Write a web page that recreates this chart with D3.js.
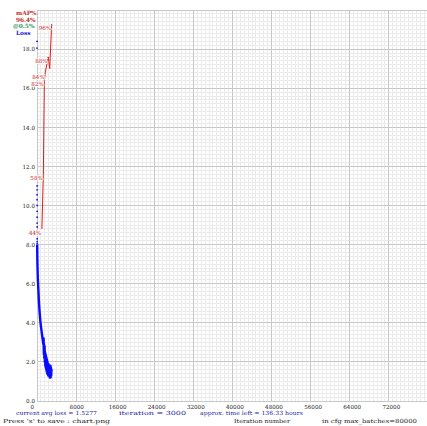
<!DOCTYPE html>
<html><head><meta charset="utf-8">
<script src="https://cdn.jsdelivr.net/npm/d3@7"></script>
<style>body{margin:0;background:#fff}svg{display:block}</style>
</head><body>
<script>
// ---- data ----
const maxBatches = 80000;
const maxLoss = 20;
const yTickValues = [0, 2, 4, 6, 8, 10, 12, 14, 16, 18];
const yTickLabels = ["0.0", "2.0", "4.0", "6.0", "8.0", "10.0", "12.0", "14.0", "16.0", "18.0"];
const xTickValues = [0, 8000, 16000, 24000, 32000, 40000, 48000, 56000, 64000, 72000];
const xTickLabels = ["0", "8000", "16000", "24000", "32000", "40000", "48000", "56000", "64000", "72000"];

// early loss samples drawn as dots along the axis
const dotIters = [2, 4, 10, 12, 14, 16, 18, 20, 22, 24, 26, 28, 30, 32, 34, 36];
const dotLoss  = [18.4, 18.05, 11.0, 10.8, 10.55, 10.3, 10.0, 9.7, 9.4, 9.1, 8.9, 8.7, 8.5, 8.3, 8.15, 8.05];

// avg loss curve
const lossIters = [40, 60, 90, 130, 180, 240, 300, 370, 440, 520, 600, 680, 760, 840, 920, 1000, 1080, 1160, 1240,
  1300, 1350, 1400, 1450, 1500, 1550, 1600, 1650, 1700, 1750, 1800, 1850, 1900, 1950, 2000, 2050, 2100, 2150,
  2200, 2250, 2300, 2350, 2400, 2450, 2500, 2550, 2600, 2650, 2700, 2750, 2800, 2850, 2900, 2950, 3000];
const lossValues = [8.0, 7.4, 7.0, 6.6, 6.2, 5.9, 5.6, 5.2, 4.9, 4.6, 4.35, 4.1, 3.9, 3.75, 3.6, 3.45, 3.3, 3.15, 3.0,
  2.9, 3.2, 2.4, 2.9, 2.2, 2.8, 2.0, 2.5, 1.8, 2.4, 1.7, 2.3, 1.6, 2.2, 1.5, 2.1, 1.4, 2.0,
  1.5, 1.9, 1.3, 1.9, 1.4, 1.8, 1.3, 1.8, 1.2, 1.7, 1.3, 1.8, 1.2, 1.7, 1.3, 1.6, 1.5];

// mAP evaluations (label shown only for new maxima)
const mapIters  = [1000, 1300, 1500, 1700, 2300, 2600, 3000];
const mapValues = [44, 58, 82, 84, 88, 85, 96.4];
const mapLabels = ["44%", "58%", "82%", "84%", "88%", "", "96%"];

const legendTexts = ["mAP%", "96.4%", "@0.5%", "Loss"];
const infoLine1 = ["current avg loss = 1.5277", "iteration = 3000", "approx. time left = 136.33 hours"];
const infoLine2 = ["Press 's' to save : chart.png", "Iteration number", "in cfg max_batches=80000"];

// ---- drawing ----
const W = 427, H = 426;
const svg = d3.select("body").append("svg").attr("width", W).attr("height", H);
const plotLeft = 37, plotTop = 10, plotSize = 391;
const x = d3.scaleLinear().domain([0, maxBatches]).range([plotLeft, plotLeft + plotSize]);
const y = d3.scaleLinear().domain([0, maxLoss]).range([plotTop + plotSize, plotTop]);
const yMap = d3.scaleLinear().domain([0, 100]).range([plotTop + plotSize, plotTop]);
const FONT = "DejaVu Serif";

// minor grid
const grid = svg.append("g").attr("shape-rendering", "crispEdges");
grid.append("g").selectAll("line").data(d3.range(0, maxBatches + 1, maxBatches / 100)).join("line")
  .attr("x1", d => x(d)).attr("x2", d => x(d)).attr("y1", y(0)).attr("y2", y(maxLoss))
  .attr("stroke", "#ebebeb").attr("stroke-width", 1);
grid.append("g").selectAll("line").data(d3.range(0, maxLoss + 0.001, maxLoss / 100)).join("line")
  .attr("y1", d => y(d)).attr("y2", d => y(d)).attr("x1", x(0)).attr("x2", x(maxBatches))
  .attr("stroke", "#ebebeb").attr("stroke-width", 1);
// major grid
grid.append("g").selectAll("line").data(d3.range(0, maxBatches + 1, maxBatches / 10)).join("line")
  .attr("x1", d => x(d)).attr("x2", d => x(d)).attr("y1", y(0)).attr("y2", y(maxLoss))
  .attr("stroke", "#c8c8c8").attr("stroke-width", 1);
grid.append("g").selectAll("line").data(d3.range(0, maxLoss + 0.001, maxLoss / 10)).join("line")
  .attr("y1", d => y(d)).attr("y2", d => y(d)).attr("x1", x(0)).attr("x2", x(maxBatches))
  .attr("stroke", "#c8c8c8").attr("stroke-width", 1);

// y axis labels
const yAxis = svg.append("g").attr("transform", `translate(${plotLeft - 2},0)`)
  .call(d3.axisLeft(y).tickValues(yTickValues).tickSize(0).tickPadding(0)
    .tickFormat((d, i) => yTickLabels[i]));
yAxis.select(".domain").remove();
yAxis.selectAll("text").attr("font-family", FONT).attr("font-size", 5.6).attr("fill", "#222");

// x axis labels
const xAxis = svg.append("g").attr("transform", `translate(0,${plotTop + plotSize + 4})`)
  .call(d3.axisBottom(x).tickValues(xTickValues).tickSize(0).tickPadding(0)
    .tickFormat((d, i) => xTickLabels[i]));
xAxis.select(".domain").remove();
xAxis.selectAll("text").attr("font-family", FONT).attr("font-size", 5.6).attr("fill", "#222")
  .attr("text-anchor", "start").attr("x", -7);

// loss dots
svg.append("g").selectAll("circle").data(dotIters).join("circle")
  .attr("cx", d => x(d)).attr("cy", (d, i) => y(dotLoss[i])).attr("r", 0.9).attr("fill", "#1010ff");

// loss curve
const lossPts = lossIters.map((it, i) => [it, lossValues[i]]);
svg.append("path").datum(lossPts)
  .attr("d", d3.line().x(d => x(d[0])).y(d => y(d[1])))
  .attr("fill", "none").attr("stroke", "#0a0aff").attr("stroke-width", 2.4)
  .attr("stroke-linejoin", "round");

// mAP line
const mapPts = mapIters.map((it, i) => [it, mapValues[i], mapLabels[i]]);
svg.append("path").datum(mapPts)
  .attr("d", d3.line().x(d => x(d[0])).y(d => yMap(d[1])))
  .attr("fill", "none").attr("stroke", "#d42020").attr("stroke-width", 1);
svg.append("g").selectAll("text").data(mapPts.filter(d => d[2])).join("text")
  .attr("x", d => x(d[0]) - 13).attr("y", d => yMap(d[1]) + 6)
  .attr("font-family", FONT).attr("font-size", 5.6)
  .attr("fill", "#c81e1e").attr("stroke", "#fff").attr("stroke-width", 1.6)
  .attr("paint-order", "stroke")
  .text(d => d[2]);

// legend
const legendColors = ["#c82828", "#c82828", "#2a9a5a", "#2222d0"];
const legendPos = [[16, 15], [16, 21.5], [13, 28], [16, 34.5]];
svg.append("g").selectAll("text").data(legendTexts).join("text")
  .attr("x", (d, i) => legendPos[i][0]).attr("y", (d, i) => legendPos[i][1])
  .attr("font-family", FONT).attr("font-size", 5.8).attr("font-weight", "bold")
  .attr("fill", (d, i) => legendColors[i]).text(d => d);

// bottom info
const l1x = [[16, 81], [119, 67], [200, 103]];
svg.append("g").selectAll("text").data(infoLine1).join("text")
  .attr("x", (d, i) => l1x[i][0]).attr("y", 415)
  .attr("textLength", (d, i) => l1x[i][1]).attr("lengthAdjust", "spacingAndGlyphs")
  .attr("font-family", FONT).attr("font-size", 5.6).attr("fill", "#2424a8").text(d => d);
const l2x = [[3, 107], [234, 56], [322, 95]];
svg.append("g").selectAll("text").data(infoLine2).join("text")
  .attr("x", (d, i) => l2x[i][0]).attr("y", 422.5)
  .attr("textLength", (d, i) => l2x[i][1]).attr("lengthAdjust", "spacingAndGlyphs")
  .attr("font-family", FONT).attr("font-size", 5.6).attr("fill", "#222").text(d => d);
</script>
</body></html>
